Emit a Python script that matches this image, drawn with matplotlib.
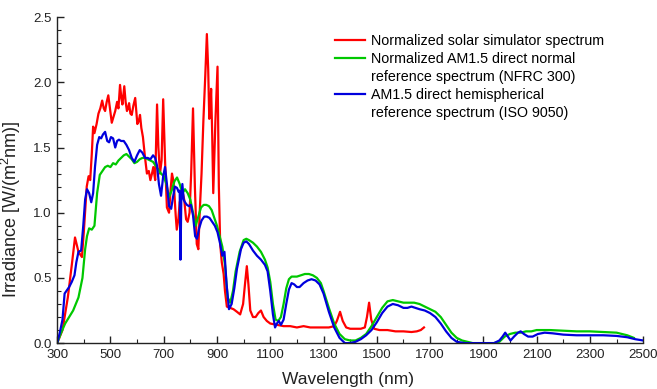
import matplotlib
matplotlib.use("Agg")
from matplotlib import pyplot as plt
from matplotlib.lines import Line2D
from matplotlib.ticker import MultipleLocator, FixedLocator, FormatStrFormatter

plt.rcParams['font.family'] = ['Liberation Sans', 'DejaVu Sans']
plt.rcParams['mathtext.default'] = 'regular'

# (wavelength nm, irradiance)
# Normalized solar simulator spectrum
SIM = [(300, 0.0), (320, 0.1), (340, 0.35), (355, 0.6), (367, 0.81), (380, 0.7), (393, 0.66),
       (400, 0.85), (411, 1.2), (418, 1.28), (424, 1.25), (430, 1.45), (435, 1.66), (440, 1.61),
       (448, 1.68), (455, 1.76), (462, 1.8), (469, 1.86), (475, 1.8), (480, 1.78), (486, 1.85),
       (492, 1.9), (498, 1.8), (505, 1.69), (512, 1.74), (518, 1.78), (525, 1.85), (530, 1.8),
       (536, 1.98), (541, 1.88), (545, 1.83), (552, 1.97), (557, 1.85), (562, 1.78), (566, 1.8),
       (570, 1.84), (575, 1.76), (580, 1.75), (586, 1.82), (593, 1.88), (597, 1.78), (601, 1.68),
       (606, 1.7), (611, 1.75), (616, 1.65), (622, 1.58), (630, 1.42), (637, 1.3), (644, 1.32),
       (650, 1.25), (656, 1.3), (661, 1.35), (668, 1.25), (675, 1.83), (680, 1.5), (686, 1.3),
       (692, 1.4), (698, 1.87), (705, 1.4), (712, 1.04), (720, 1.0), (726, 1.18), (731, 1.3),
       (736, 1.25), (740, 1.15), (745, 0.98), (749, 0.87), (755, 0.95), (760, 1.08), (765, 1.12),
       (770, 1.17), (777, 1.1), (784, 0.95), (790, 0.93), (797, 1.0), (803, 1.3), (810, 1.8),
       (817, 1.2), (824, 0.76), (830, 0.72), (835, 1.0), (842, 1.3), (849, 1.71), (856, 2.05),
       (862, 2.37), (867, 2.1), (871, 1.72), (875, 1.8), (878, 1.95), (882, 1.6), (886, 1.15),
       (894, 1.7), (902, 2.12), (907, 1.2), (912, 0.76), (918, 0.62), (925, 0.53), (930, 0.4),
       (937, 0.28), (950, 0.27), (962, 0.26), (975, 0.24), (987, 0.22), (998, 0.3), (1005, 0.45),
       (1012, 0.59), (1018, 0.45), (1025, 0.25), (1035, 0.2), (1045, 0.2), (1055, 0.23), (1065, 0.25),
       (1075, 0.2), (1087, 0.17), (1100, 0.15), (1125, 0.14), (1150, 0.13), (1175, 0.13), (1200, 0.12),
       (1225, 0.13), (1250, 0.12), (1275, 0.12), (1300, 0.12), (1320, 0.12), (1340, 0.13), (1350, 0.17),
       (1362, 0.24), (1372, 0.17), (1385, 0.12), (1400, 0.11), (1420, 0.11), (1440, 0.11), (1455, 0.12),
       (1463, 0.2), (1471, 0.31), (1479, 0.18), (1490, 0.11), (1510, 0.1), (1540, 0.1), (1570, 0.09),
       (1600, 0.09), (1630, 0.085), (1650, 0.09), (1665, 0.1), (1677, 0.12)]

# Normalized AM1.5 direct normal reference spectrum (NFRC 300)
NFRC = [(300, 0.0), (315, 0.08), (330, 0.15), (345, 0.2), (360, 0.25), (380, 0.35), (395, 0.5),
        (405, 0.72), (412, 0.82), (420, 0.88), (430, 0.87), (440, 0.9), (450, 1.15), (460, 1.29),
        (470, 1.32), (480, 1.35), (490, 1.36), (500, 1.35), (510, 1.38), (520, 1.37), (530, 1.4),
        (540, 1.42), (550, 1.44), (560, 1.45), (570, 1.43), (580, 1.41), (590, 1.38), (600, 1.39),
        (610, 1.41), (620, 1.42), (630, 1.42), (640, 1.41), (650, 1.4), (660, 1.39), (670, 1.36),
        (680, 1.33), (690, 1.3), (700, 1.28), (710, 1.22), (720, 1.12), (730, 1.17), (740, 1.24),
        (750, 1.27), (760, 1.22), (770, 1.15), (780, 1.18), (790, 1.15), (800, 1.1), (810, 1.0),
        (820, 0.9), (830, 0.97), (840, 1.04), (850, 1.06), (860, 1.06), (870, 1.05), (880, 1.02),
        (890, 0.96), (900, 0.9), (910, 0.82), (920, 0.74), (930, 0.6), (940, 0.35), (950, 0.31),
        (960, 0.4), (970, 0.55), (985, 0.7), (1000, 0.79), (1010, 0.8), (1020, 0.79), (1035, 0.77),
        (1050, 0.74), (1065, 0.7), (1080, 0.64), (1090, 0.58), (1100, 0.47), (1110, 0.3), (1120, 0.18),
        (1130, 0.17), (1140, 0.2), (1150, 0.3), (1160, 0.42), (1170, 0.49), (1180, 0.51), (1190, 0.51),
        (1200, 0.51), (1215, 0.52), (1230, 0.53), (1245, 0.53), (1260, 0.52), (1275, 0.5), (1290, 0.46),
        (1300, 0.4), (1320, 0.27), (1340, 0.15), (1360, 0.07), (1380, 0.03), (1400, 0.02), (1420, 0.02),
        (1440, 0.04), (1460, 0.07), (1480, 0.13), (1500, 0.2), (1520, 0.27), (1540, 0.32), (1560, 0.33),
        (1580, 0.32), (1600, 0.31), (1620, 0.31), (1640, 0.31), (1660, 0.3), (1680, 0.28), (1700, 0.26),
        (1720, 0.24), (1740, 0.2), (1760, 0.14), (1780, 0.08), (1800, 0.04), (1820, 0.02), (1840, 0.01),
        (1860, 0.0), (1900, 0.0), (1940, 0.0), (1960, 0.01), (1980, 0.05), (2000, 0.07), (2020, 0.08),
        (2040, 0.08), (2060, 0.09), (2080, 0.09), (2100, 0.1), (2150, 0.1), (2200, 0.095), (2250, 0.09),
        (2300, 0.09), (2350, 0.085), (2400, 0.08), (2440, 0.06), (2465, 0.04)]

# AM1.5 direct hemispherical reference spectrum (ISO 9050)
ISO = [(300, 0.0), (310, 0.08), (320, 0.18), (328, 0.38), (335, 0.4), (345, 0.43), (355, 0.47),
       (365, 0.52), (372, 0.62), (380, 0.7), (390, 0.71), (398, 0.9), (405, 1.1), (412, 1.18),
       (420, 1.15), (428, 1.08), (435, 1.15), (442, 1.35), (450, 1.52), (458, 1.58), (465, 1.57),
       (472, 1.6), (480, 1.62), (488, 1.55), (495, 1.54), (502, 1.58), (510, 1.57), (518, 1.5),
       (525, 1.55), (532, 1.56), (540, 1.55), (550, 1.55), (560, 1.52), (570, 1.48), (580, 1.42),
       (590, 1.39), (600, 1.44), (610, 1.48), (620, 1.46), (630, 1.42), (640, 1.42), (650, 1.41),
       (660, 1.44), (668, 1.42), (675, 1.36), (682, 1.22), (690, 1.13), (698, 1.28), (705, 1.35),
       (712, 1.22), (720, 1.05), (728, 1.03), (735, 1.12), (742, 1.2), (750, 1.19), (756, 1.16),
       (760, 1.17), (763, 0.64), (766, 1.1), (770, 1.22), (775, 1.1), (780, 1.08), (787, 1.06),
       (795, 1.05), (802, 1.06), (810, 0.98), (818, 0.82), (825, 0.8), (833, 0.88), (842, 0.94),
       (852, 0.97), (862, 0.97), (872, 0.96), (882, 0.93), (892, 0.9), (902, 0.85), (912, 0.76),
       (920, 0.67), (928, 0.7), (936, 0.45), (945, 0.26), (955, 0.3), (965, 0.42), (975, 0.57),
       (990, 0.72), (1000, 0.77), (1010, 0.78), (1020, 0.76), (1035, 0.71), (1050, 0.67), (1065, 0.64),
       (1080, 0.6), (1090, 0.55), (1100, 0.4), (1110, 0.22), (1118, 0.12), (1125, 0.15), (1132, 0.17),
       (1140, 0.14), (1150, 0.18), (1160, 0.3), (1170, 0.41), (1180, 0.46), (1190, 0.45), (1200, 0.43),
       (1210, 0.43), (1225, 0.46), (1240, 0.48), (1255, 0.49), (1270, 0.48), (1285, 0.45), (1300, 0.38),
       (1320, 0.24), (1340, 0.12), (1360, 0.04), (1380, 0.0), (1400, 0.0), (1420, 0.01), (1440, 0.03),
       (1460, 0.06), (1480, 0.1), (1500, 0.16), (1520, 0.23), (1540, 0.28), (1560, 0.3), (1580, 0.29),
       (1600, 0.27), (1615, 0.27), (1630, 0.28), (1645, 0.27), (1660, 0.26), (1680, 0.25), (1700, 0.23),
       (1720, 0.2), (1740, 0.15), (1760, 0.09), (1780, 0.04), (1800, 0.01), (1830, 0.0), (1860, 0.0),
       (1900, 0.0), (1940, 0.0), (1960, 0.02), (1972, 0.05), (1982, 0.08), (1992, 0.05), (2002, 0.02),
       (2015, 0.05), (2030, 0.08), (2040, 0.09), (2052, 0.07), (2068, 0.05), (2085, 0.05), (2105, 0.07),
       (2130, 0.08), (2160, 0.075), (2200, 0.065), (2250, 0.06), (2300, 0.06), (2350, 0.06), (2400, 0.055),
       (2440, 0.045), (2470, 0.03), (2500, 0.02)]

# each legend entry may wrap onto a second line
labels = [["Normalized solar simulator spectrum"],
          ["Normalized AM1.5 direct normal", "reference spectrum (NFRC 300)"],
          ["AM1.5 direct hemispherical", "reference spectrum (ISO 9050)"]]
colors = ['#ff0000', '#00c800', '#0000dd']
x_ticks = list(range(300, 2501, 200))

fig = plt.figure(figsize=(6.57, 3.89), dpi=100)
ax = fig.add_axes([0.087, 0.118, 0.892, 0.838])

handles, texts = [], []
for data, lab, color in zip([SIM, NFRC, ISO], labels, colors):
    wl, irr = zip(*data)
    line, = ax.plot(wl, irr, color=color, lw=1.6)
    handles.append(line)
    texts.append(lab[0])
    # continuation lines get a blank handle so the colour line sits on the first text line
    for extra in lab[1:]:
        handles.append(Line2D([], [], color='none'))
        texts.append(extra)

ax.set_xlim(300, 2500)
ax.set_ylim(0, 2.5)
ax.xaxis.set_major_locator(FixedLocator(x_ticks))
ax.xaxis.set_minor_locator(MultipleLocator(100))
ax.yaxis.set_major_locator(MultipleLocator(0.5))
ax.yaxis.set_minor_locator(MultipleLocator(0.1))
ax.yaxis.set_major_formatter(FormatStrFormatter('%.1f'))
ax.tick_params(which='major', direction='in', length=5, width=1, labelsize=9.5, colors='#222222',
               pad=4)
ax.tick_params(which='minor', direction='in', length=3, width=0.8, colors='#222222')

for side in ['top', 'right']:
    ax.spines[side].set_visible(False)
for side in ['left', 'bottom']:
    ax.spines[side].set_linewidth(1)
    ax.spines[side].set_color('#222222')

ax.set_xlabel("Wavelength (nm)", fontsize=12.5, color='#222222')
ax.xaxis.set_label_coords(0.497, -0.09)
ax.set_ylabel("Irradiance [W/(m$^2$nm)]", fontsize=13, color='#222222')
ax.yaxis.set_label_coords(-0.058, 0.41)

ax.legend(handles, texts, loc='upper left', bbox_to_anchor=(0.474, 0.948), frameon=False,
          fontsize=10.3, handlelength=2.1, handletextpad=0.42, labelspacing=0.27,
          borderaxespad=0, borderpad=0)

fig.savefig("out.png", dpi=100)
